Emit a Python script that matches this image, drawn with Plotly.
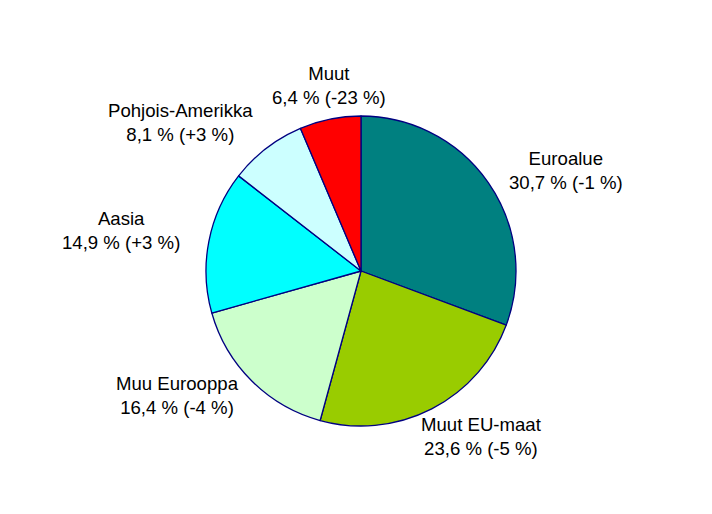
import plotly.graph_objects as go

labels = ["Euroalue", "Muut EU-maat", "Muu Eurooppa", "Aasia", "Pohjois-Amerikka", "Muut"]
shares = [30.7, 23.6, 16.4, 14.9, 8.1, 6.4]
changes = ["-1 %", "-5 %", "-4 %", "+3 %", "+3 %", "-23 %"]
colors = ["#008080", "#99CC00", "#CCFFCC", "#00FFFF", "#CCFFFF", "#FF0000"]

# label positions in page pixels (layout only)
label_px = [(566, 170), (481, 436), (177, 395), (121, 230), (180, 122), (329, 85)]

W, H = 712, 514
OFF = 8  # page body margin offset

fig = go.Figure(go.Pie(
    labels=labels,
    values=shares,
    sort=False,
    direction="clockwise",
    rotation=0,
    marker=dict(colors=colors, line=dict(color="#000080", width=1.3)),
    textinfo="none",
    hoverinfo="label+percent",
    domain=dict(x=[(206 - OFF) / W, (516 - OFF) / W],
                y=[(H - (426 - OFF)) / H, (H - (116 - OFF)) / H]),
    showlegend=False,
))

annotations = []
for lab, s, c, (px, py) in zip(labels, shares, changes, label_px):
    txt = f"{lab}<br>{str(s).replace('.', ',')} % ({c})"
    annotations.append(dict(
        x=(px - OFF) / W, y=1 - (py - OFF) / H, xref="paper", yref="paper",
        text=txt, showarrow=False, xanchor="center", yanchor="middle",
        font=dict(family="Liberation Sans, Arial, sans-serif", size=18.6, color="#000000"),
    ))

fig.update_layout(
    width=W, height=H,
    margin=dict(l=0, r=0, t=0, b=0),
    paper_bgcolor="white", plot_bgcolor="white",
    annotations=annotations,
)

fig.write_html("out.html")
